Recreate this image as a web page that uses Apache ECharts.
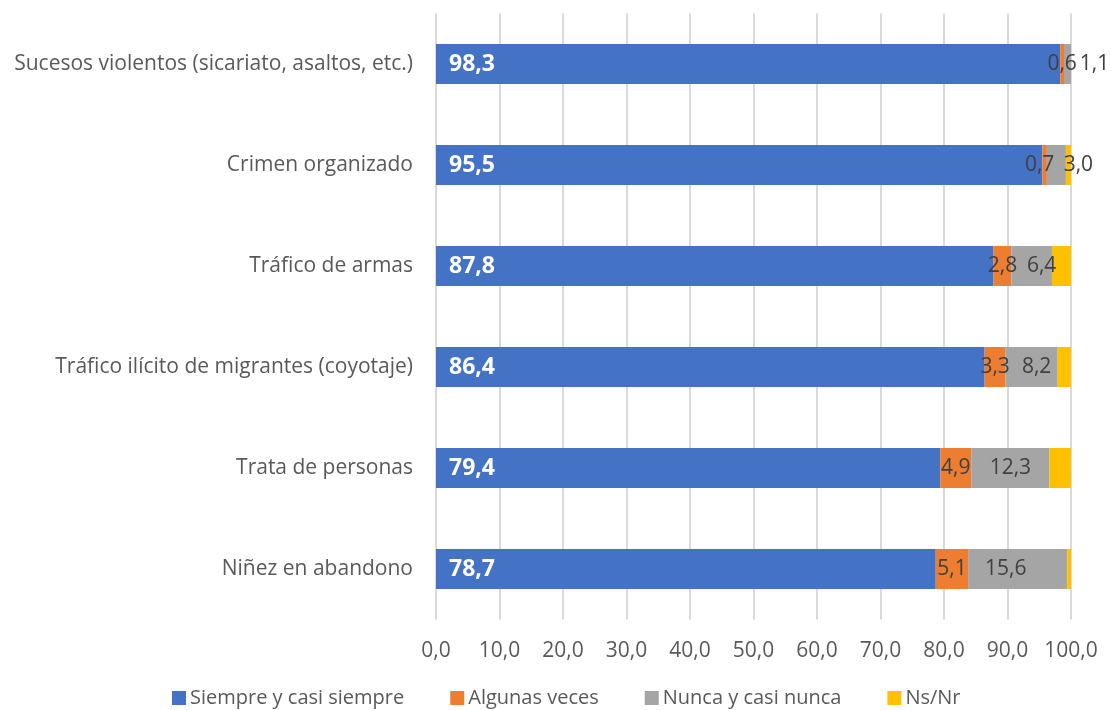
<!DOCTYPE html>
<html>
<head>
<meta charset="utf-8">
<script src="https://cdn.jsdelivr.net/npm/echarts@6/dist/echarts.min.js"></script>
<style>
html,body{margin:0;padding:0;background:#fff;}
#c{width:1111px;height:710px;}
</style>
</head>
<body>
<div id="c"></div>
<script>
const categories = [
  'Sucesos violentos (sicariato, asaltos, etc.)',
  'Crimen organizado',
  'Tráfico de armas',
  'Tráfico ilícito de migrantes (coyotaje)',
  'Trata de personas',
  'Niñez en abandono'
];
const seriesNames = ['Siempre y casi siempre', 'Algunas veces', 'Nunca y casi nunca', 'Ns/Nr'];
const siempre = [98.3, 95.5, 87.8, 86.4, 79.4, 78.7];
const algunas = [0.6, 0.7, 2.8, 3.3, 4.9, 5.1];
const nunca = [1.1, 3.0, 6.4, 8.2, 12.3, 15.6];
const nsnr = [0.0, 0.8, 3.0, 2.1, 3.4, 0.6];
const xTicks = [0, 10, 20, 30, 40, 50, 60, 70, 80, 90, 100];

// label horizontal shifts (Excel moved overlapping labels)
const algunasShift = [0, -5, 0, 0, 0, 0];
const nuncaShift = [27, 22, 10, 5, 0, -12];

const colors = ['#4472C4', '#ED7D31', '#A5A5A5', '#FFC000'];
const FONT = '"Open Sans", "Noto Sans", sans-serif';
const fmt = v => v.toFixed(1).replace('.', ',');

function items(vals, shifts) {
  return vals.map((v, i) => ({
    value: v,
    label: shifts ? { offset: [shifts[i], 0] } : undefined
  }));
}

const chart = echarts.init(document.getElementById('c'), null, { renderer: 'canvas' });
chart.setOption({
  animation: false,
  color: colors,
  textStyle: { fontFamily: FONT },
  grid: { left: 436, right: 40, top: 13.5, bottom: 90.5, containLabel: false },
  xAxis: {
    type: 'value',
    min: 0, max: 100, interval: 10,
    axisLine: { show: false },
    axisTick: { show: false },
    splitLine: { show: true, lineStyle: { color: '#d9d9d9', width: 2 } },
    axisLabel: {
      margin: 21,
      color: '#595959',
      fontSize: 21,
      fontFamily: FONT,
      formatter: v => xTicks.includes(v) ? fmt(v) : ''
    }
  },
  yAxis: {
    type: 'category',
    data: categories,
    inverse: true,
    axisLine: { show: false },
    axisTick: { show: false },
    axisLabel: { margin: 23, color: '#595959', fontSize: 21, fontFamily: FONT }
  },
  legend: {
    top: 688,
    left: 172,
    padding: 0,
    itemWidth: 14,
    itemHeight: 14,
    itemGap: 46,
    icon: 'rect',
    textStyle: { color: '#595959', fontSize: 20, fontFamily: FONT, padding: [0, 0, 0, -1] },
    data: seriesNames
  },
  series: [
    {
      name: seriesNames[0], type: 'bar', stack: 't', barWidth: 40,
      data: items(siempre),
      label: {
        show: true, position: 'insideLeft', distance: 13,
        color: '#fff', fontWeight: 'bold', fontSize: 23, fontFamily: FONT,
        formatter: p => fmt(p.value)
      }
    },
    {
      name: seriesNames[1], type: 'bar', stack: 't', barWidth: 40,
      data: items(algunas, algunasShift),
      label: {
        show: true, position: 'inside', color: '#404040', fontSize: 21, fontFamily: FONT,
        formatter: p => fmt(p.value)
      }
    },
    {
      name: seriesNames[2], type: 'bar', stack: 't', barWidth: 40,
      data: items(nunca, nuncaShift),
      label: {
        show: true, position: 'inside', color: '#404040', fontSize: 21, fontFamily: FONT,
        formatter: p => fmt(p.value)
      }
    },
    {
      name: seriesNames[3], type: 'bar', stack: 't', barWidth: 40,
      data: items(nsnr),
      label: { show: false }
    }
  ]
});
</script>
</body>
</html>
